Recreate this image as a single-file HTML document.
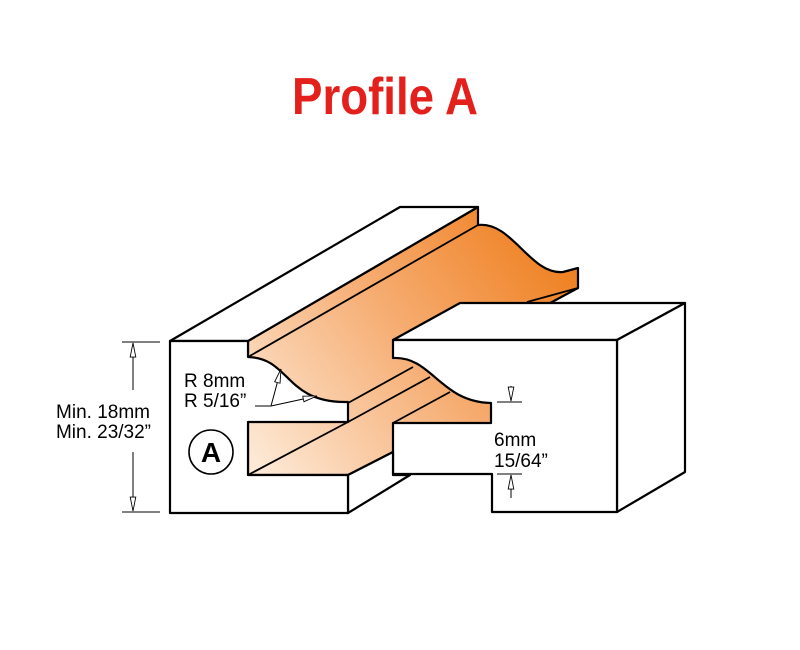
<!DOCTYPE html>
<html><head><meta charset="utf-8"><style>
html,body{margin:0;padding:0;background:#fff;}
svg{display:block;}
text{font-family:"Liberation Sans Narrow","Liberation Sans",sans-serif;}
</style></head><body>
<svg width="800" height="650" viewBox="0 0 800 650" xmlns="http://www.w3.org/2000/svg">
<defs>
<linearGradient id="g" gradientUnits="userSpaceOnUse" x1="260" y1="470" x2="570" y2="230">
<stop offset="0" stop-color="#fde9d6"/>
<stop offset="0.5" stop-color="#f6ad72"/>
<stop offset="1" stop-color="#ee7b18"/>
</linearGradient>
<marker id="ar" viewBox="0 0 16 8" refX="16" refY="4" markerWidth="15" markerHeight="7" orient="auto" markerUnits="userSpaceOnUse">
<path d="M0,0.8 L16,4 L0,7.2 Z" fill="#fff" stroke="#000" stroke-width="1"/>
</marker>
</defs>
<text x="385" y="114" text-anchor="middle" font-size="52" font-weight="bold" fill="#e3201b" textLength="186" lengthAdjust="spacingAndGlyphs">Profile A</text>

<g stroke="#000" stroke-width="2.2" stroke-linejoin="round">
<path d="M248,341 L478,207 L478,225 C512,221 530,275 563,272 L578,268 L578,288 L500,330 L500,430 L393,452 L348,475 L248,475 Z" fill="url(#g)"/>
<g fill="none" stroke-width="1.8">
<path d="M248,357 L478,225"/>
<path d="M578,288 L527,302"/>
<path d="M348,403 L413,367"/>
<path d="M348,422 L430,377"/>
<path d="M393,423 L450,392"/>
<path d="M248,475 L348,422"/>
<path d="M348,475 L393,452"/>
</g>
<path d="M393,340 L460,303 L685,303 L617,340 Z" fill="#fff"/>
<path d="M617,340 L685,303 L685,472 L617,512 Z" fill="#fff"/>
<path d="M393,340 L617,340 L617,512 L492,512 L492,474 L393,474 L393,423 L491,423 L491,403 C440,402 432,356 393,358 Z" fill="#fff"/>
<path d="M170,341 L400,207 L478,207 L248,341 Z" fill="#fff"/>
<path d="M348,475 L393,452 L393,475 L410,475 L348,513 Z" fill="#fff"/>
<path d="M170,341 L248,341 L248,357 C290,358 285,402 345,402 L348,402 L348,422 L248,422 L248,475 L348,475 L348,513 L170,513 Z" fill="#fff"/>
</g>

<g stroke="#000" stroke-width="1" fill="none">
<path d="M122,342 H160 M122,512 H160"/>
<path d="M133,390 V343" marker-end="url(#ar)"/>
<path d="M133,452 V511" marker-end="url(#ar)"/>
<path d="M497,402 H522 M497,474 H522"/>
<path d="M511,386 V401" marker-end="url(#ar)"/>
<path d="M511,498 V475" marker-end="url(#ar)"/>
<path d="M255,406 H271"/>
<path d="M271,406 L281,369" marker-end="url(#ar)"/>
<path d="M271,406 L317,396" marker-end="url(#ar)"/>
</g>
<g font-size="19" fill="#000">
<text x="150" y="418" text-anchor="end">Min. 18mm</text>
<text x="151" y="438" text-anchor="end">Min. 23/32”</text>
<text x="184" y="387">R 8mm</text>
<text x="184" y="407">R 5/16”</text>
<text x="494" y="446">6mm</text>
<text x="494" y="467">15/64”</text>
</g>
<circle cx="211" cy="452" r="22" fill="#fff" stroke="#000" stroke-width="1.6"/>
<text x="211" y="462" text-anchor="middle" font-size="28" font-weight="bold" fill="#000" style="font-family:'Liberation Sans',sans-serif">A</text>
</svg>
</body></html>
